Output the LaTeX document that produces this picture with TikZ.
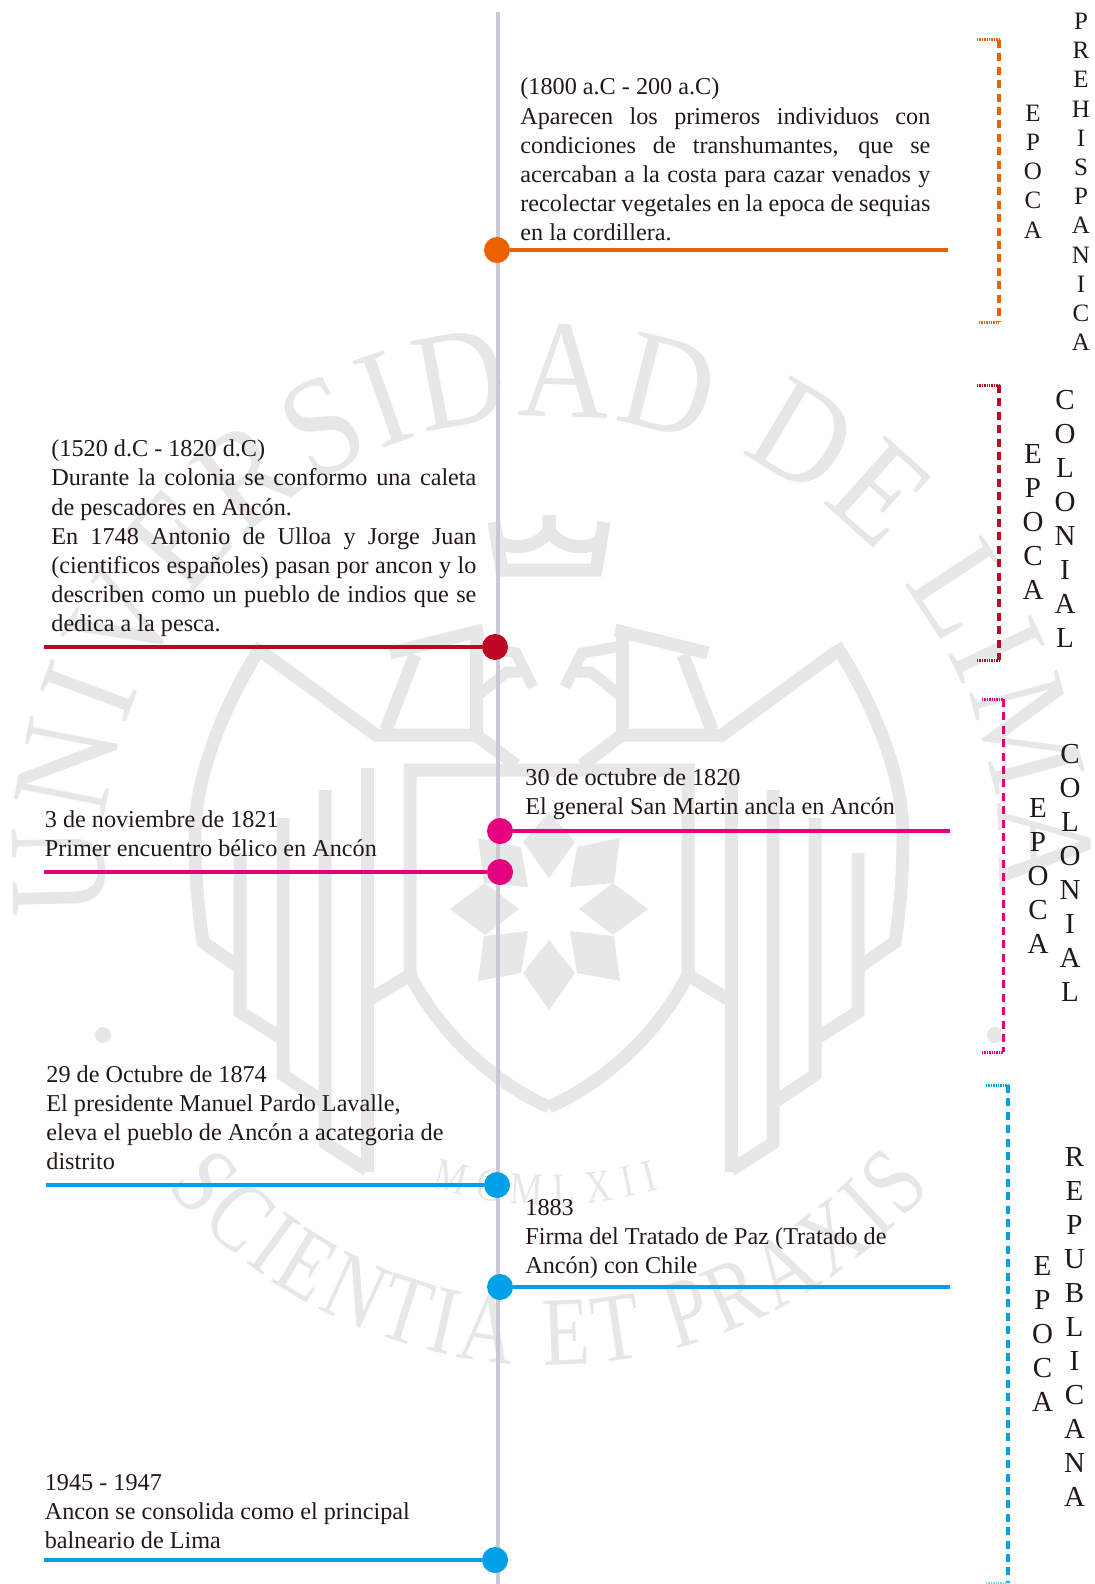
\documentclass[tikz,border=0pt]{standalone}
\usepackage{fontspec}
\usetikzlibrary{decorations.text}
\setmainfont{Liberation Serif}
\newfontfamily\wmfont[FakeStretch=0.9]{Liberation Serif}
\newfontfamily\wmfontb[FakeStretch=0.8]{Liberation Serif}
\definecolor{wmgray}{HTML}{E7E7E7}
\definecolor{spinegray}{HTML}{C9CAD3}
\definecolor{inktxt}{HTML}{231815}
\definecolor{orangeE}{HTML}{EB6100}
\definecolor{crimsonE}{HTML}{BE0722}
\definecolor{pinkE}{HTML}{E4007F}
\definecolor{blueE}{HTML}{00A0E9}
\tikzset{
  wm/.style={draw=wmgray,line width=6.5pt,miter limit=10},
  dot/.style={circle,minimum size=13pt,inner sep=0pt},
  txt/.style={anchor=south west,inner sep=0pt,text=inktxt,font=\fontsize{12.1}{14.6}\selectfont,align=justify},
  txtfree/.style={anchor=south west,inner sep=0pt,text=inktxt,font=\fontsize{12.1}{14.6}\selectfont,align=left},
  stkS/.style={inner sep=0pt,text=inktxt,align=center,font=\fontsize{12.5}{14.6}\selectfont},
  stkL/.style={inner sep=0pt,text=inktxt,align=center,font=\fontsize{14.5}{17}\selectfont},
  brv/.style={line width=1.7pt,dash pattern=on 4pt off 2.7pt},
  brh/.style={line width=1.5pt,dash pattern=on 0.7pt off 0.5pt},
}
\begin{document}
\begin{tikzpicture}[x=0.5pt,y=-0.5pt]
\useasboundingbox (0,0) rectangle (1094,1584);
% watermark
\path[decorate,decoration={text along path,text align={fit to path},
  text={|\wmfont\fontsize{70}{70}\selectfont\color{wmgray}|UNIVERSIDAD}}]
  ({549+445*cos(187)},{862-445*sin(187)}) arc[start angle=187,end angle=70,radius=222.5pt];
\path[decorate,decoration={text along path,text align={fit to path},
  text={|\wmfont\fontsize{70}{70}\selectfont\color{wmgray}|DE LIMA}}]
  ({549+450*cos(65)},{862-450*sin(65)}) arc[start angle=65,end angle=-4,radius=225pt];
\path[decorate,decoration={text along path,text align={fit to path},
  text={|\wmfontb\fontsize{49}{49}\selectfont\color{wmgray}|SCIENTIA ET PRAXIS}}]
  ({549+499*cos(220)},{866-499*sin(220)}) arc[start angle=220,end angle=320,radius=249.5pt];
\path[decorate,decoration={text along path,text align={fit to path},
  text={|\wmfontb\fontsize{23}{23}\selectfont\color{wmgray}|MCMLXII}}]
  ({549+400*cos(253)},{805-400*sin(253)}) arc[start angle=253,end angle=286,radius=200pt];
\foreach \side in {1,-1} {
\begin{scope}[shift={(549,0)},xscale=\side]
% wing
\draw[wm] (287,645) .. controls (325,705) and (354,775) .. (354,835)
  .. controls (354,880) and (350,915) .. (346,942) -- (309,968);
\draw[wm] (287,652) -- (173,735) -- (73,735) -- (33,765);
\draw[wm] (309,853) -- (309,1012) -- (266,1039);
\draw[wm] (266,818) -- (266,1075) -- (224,1103);
\draw[wm] (224,790) -- (224,1143) -- (182,1170);
\draw[wm] (182,768) -- (182,1172);
\draw[wm] (0,770) -- (139,770) -- (139,975) -- (182,1001);
\draw[wm] (139,975) .. controls (105,1040) and (50,1085) .. (0,1107);
% head
\draw[wm] (73,735) -- (73,627);
\draw[wm] (66,630) -- (159,653);
\draw[wm] (134,655) -- (163,730);
\draw[wm,line width=5.5pt] (73,646) -- (33,653) -- (16,687);
\draw[wm,line width=5.5pt] (28,672) -- (42,672) -- (73,697);
% crown
\draw[wm] (0,515) -- (0,530) .. controls (8,545) and (32,552) .. (50,542);
\draw[wm] (55,522) -- (47,570) -- (0,570);
% star
\fill[wmgray] (0,812) -- (26,842) -- (0,878) -- cycle;
\fill[wmgray] (0,940) -- (26,973) -- (0,1010) -- cycle;
\fill[wmgray] (30,909) -- (64,883) -- (99,909) -- (64,935) -- cycle;
\fill[wmgray] (21,887) -- (28,847) -- (71,838) -- (65,883) -- cycle;
\fill[wmgray] (21,931) -- (65,936) -- (71,981) -- (28,973) -- cycle;
\fill[wmgray] (446,1035) circle[radius=8];
\end{scope}
}
% axis
\coordinate (top) at (497.5,12);
\coordinate (bot) at (497.5,1584);
\draw[spinegray,line width=2pt] (top) -- (bot);
% events
\node[dot,fill=orangeE] (D1) at (497,250) {};
\node[dot,fill=crimsonE] (D2) at (495,647) {};
\node[dot,fill=pinkE] (D3) at (500,831) {};
\node[dot,fill=pinkE] (D4) at (500,872) {};
\node[dot,fill=blueE] (D5) at (497,1185) {};
\node[dot,fill=blueE] (D6) at (500,1287) {};
\node[dot,fill=blueE] (D7) at (495,1560) {};
\coordinate (E1) at (948,250);
\coordinate (E2) at (44,647);
\coordinate (E3) at (950,831);
\coordinate (E4) at (44,872);
\coordinate (E5) at (46,1185);
\coordinate (E6) at (950,1287);
\coordinate (E7) at (44,1560);
\path[line width=2pt]
(D1) edge[orangeE] (E1)
(D2) edge[crimsonE] (E2)
(D3) edge[pinkE] (E3)
(D4) edge[pinkE] (E4)
(D5) edge[blueE] (E5)
(D6) edge[blueE] (E6)
(D7) edge[blueE] (E7);
% texts
\node[txt,text width=205pt] (T1) at (520,250) {(1800 a.C - 200 a.C)\\
Aparecen los primeros individuos con\linebreak
condiciones de transhumantes, que se\linebreak
acercaban a la costa para cazar venados y\linebreak
recolectar vegetales en la epoca de sequias\linebreak
en la cordillera.\strut};
\node[txt,text width=212.5pt] (T2) at (51,641) {(1520 d.C - 1820 d.C)\\
Durante la colonia se conformo una caleta\linebreak
de pescadores en Ancón.\\
En 1748 Antonio de Ulloa y Jorge Juan\linebreak
(cientificos españoles) pasan por ancon y lo\linebreak
describen como un pueblo de indios que se\linebreak
dedica a la pesca.\strut};
\node[txtfree] (T3) at (525,824) {30 de octubre de 1820\\El general San Martin ancla en Ancón\strut};
\node[txtfree] (T4) at (44.5,866) {3 de noviembre de 1821\\Primer encuentro bélico en Ancón\strut};
\node[txtfree] (T5) at (46,1179) {29 de Octubre de 1874\\El presidente Manuel Pardo Lavalle,\\eleva el pueblo de Ancón a acategoria de\\distrito\strut};
\node[txtfree] (T6) at (525,1283) {1883\\Firma del Tratado de Paz (Tratado de\\Ancón) con Chile\strut};
\node[txtfree] (T7) at (44.5,1558) {1945 - 1947\\Ancon se consolida como el principal\\balneario de Lima\strut};
% brackets
\coordinate (B1a) at (977,40);
\coordinate (B1b) at (999,40);
\coordinate (B1c) at (999,322);
\coordinate (B1d) at (979,322);
\coordinate (B2a) at (977,385);
\coordinate (B2b) at (999,385);
\coordinate (B2c) at (999,660);
\coordinate (B2d) at (977,660);
\coordinate (B3a) at (982,699);
\coordinate (B3b) at (1003.5,699);
\coordinate (B3c) at (1003.5,1052);
\coordinate (B3d) at (982,1052);
\coordinate (B4a) at (986,1085);
\coordinate (B4b) at (1008,1085);
\coordinate (B4c) at (1008,1583);
\coordinate (B4d) at (986,1583);
\draw[brh,orangeE] (B1a) -- (B1b);
\draw[brv,orangeE] (B1b) -- (B1c);
\draw[brh,orangeE] (B1d) -- (B1c);
\draw[brh,crimsonE] (B2a) -- (B2b);
\draw[brv,crimsonE] (B2b) -- (B2c);
\draw[brh,crimsonE] (B2d) -- (B2c);
\draw[brh,pinkE] (B3a) -- (B3b);
\draw[brv,pinkE] (B3b) -- (B3c);
\draw[brh,pinkE] (B3d) -- (B3c);
\draw[brh,blueE] (B4a) -- (B4b);
\draw[brv,blueE] (B4b) -- (B4c);
\draw[brh,blueE!50] (B4d) -- (B4c);
% vertical labels
\node[stkS] (L1a) at (1033,171.5) {E\\P\\O\\C\\A};
\node[stkS] (L1b) at (1081,182) {P\\R\\E\\H\\I\\S\\P\\A\\N\\I\\C\\A};
\node[stkL] (L2a) at (1033,522) {E\\P\\O\\C\\A};
\node[stkL] (L2b) at (1065,519) {C\\O\\L\\O\\N\\I\\A\\L};
\node[stkL] (L3a) at (1038,876) {E\\P\\O\\C\\A};
\node[stkL] (L3b) at (1070,873) {C\\O\\L\\O\\N\\I\\A\\L};
\node[stkL] (L4a) at (1042.5,1334) {E\\P\\O\\C\\A};
\node[stkL] (L4b) at (1074.5,1327) {R\\E\\P\\U\\B\\L\\I\\C\\A\\N\\A};
\end{tikzpicture}
\end{document}
